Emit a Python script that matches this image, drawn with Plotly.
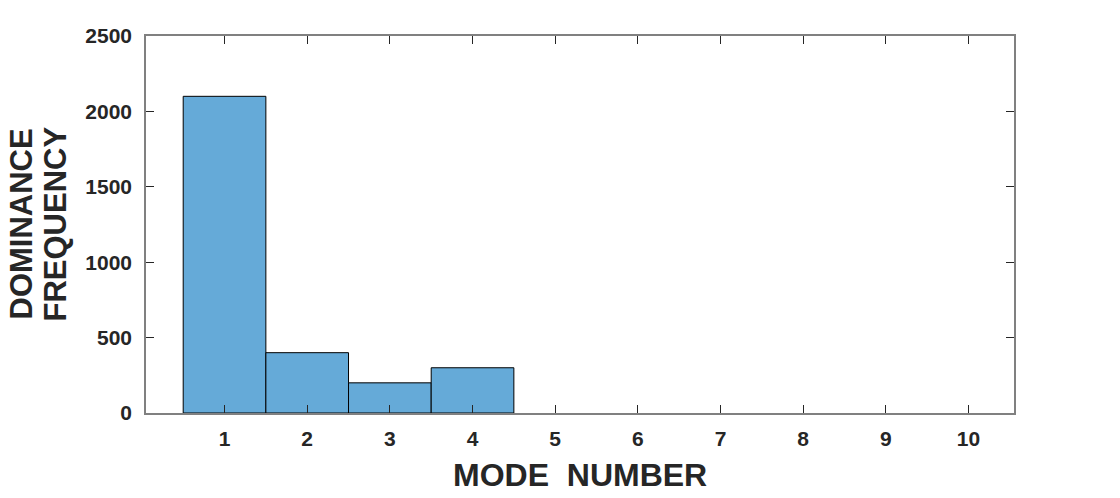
import plotly.graph_objects as go

modes = [1, 2, 3, 4, 5, 6, 7, 8, 9, 10]
counts = [2100, 400, 200, 300, 0, 0, 0, 0, 0, 0]
y_ticks = [0, 500, 1000, 1500, 2000, 2500]

xs = [m for m, c in zip(modes, counts) if c > 0]
ys = [c for c in counts if c > 0]

fig = go.Figure()
fig.add_trace(go.Bar(
    x=xs, y=ys, width=1,
    marker=dict(color="rgb(101,170,216)", line=dict(color="black", width=1)),
))

font_family = "Liberation Sans, Arial, sans-serif"
fig.update_layout(
    width=1120, height=498,
    margin=dict(l=146, r=106, t=36, b=85),
    plot_bgcolor="white", paper_bgcolor="white",
    showlegend=False,
    font=dict(family=font_family, color="#262626"),
    xaxis=dict(
        range=[0.05, 10.55], tickvals=modes, ticktext=[str(m) for m in modes],
        ticks="inside", ticklen=8, tickcolor="#262626", tickwidth=1,
        showline=True, linecolor="#808080", linewidth=1.5, mirror="ticks",
        showgrid=False, zeroline=False, ticklabelstandoff=6,
        tickfont=dict(size=21, family=font_family, color="#262626", weight="bold"),
    ),
    yaxis=dict(
        range=[0, 2500], tickvals=y_ticks,
        ticks="inside", ticklen=8, tickcolor="#262626", tickwidth=1,
        showline=True, linecolor="#808080", linewidth=1.5, mirror="ticks",
        showgrid=False, zeroline=False, ticklabelstandoff=8,
        tickfont=dict(size=21, family=font_family, color="#262626", weight="bold"),
    ),
    annotations=[
        dict(text="MODE\u00a0\u00a0NUMBER", xref="paper", yref="paper", x=0.5, y=0,
             yshift=-62, xanchor="center", yanchor="middle", showarrow=False,
             font=dict(size=32, family=font_family, color="#262626", weight="bold")),
        dict(text="DOMINANCE", xref="paper", yref="paper", x=0, y=0.5,
             xshift=-125, xanchor="center", yanchor="middle", textangle=-90, showarrow=False,
             font=dict(size=31, family=font_family, color="#262626", weight="bold")),
        dict(text="FREQUENCY", xref="paper", yref="paper", x=0, y=0.5,
             xshift=-91, xanchor="center", yanchor="middle", textangle=-90, showarrow=False,
             font=dict(size=31, family=font_family, color="#262626", weight="bold")),
    ],
)

fig.write_html("out.html", config={"displayModeBar": False},
               post_script="document.body.style.margin='0';document.body.style.overflow='hidden';")
